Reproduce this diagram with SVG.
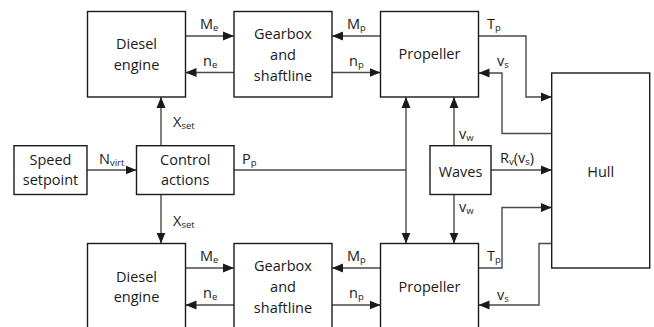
<svg xmlns="http://www.w3.org/2000/svg" width="654" height="327" viewBox="0 0 654 327">
<defs>
<style>
.box{fill:#fff;stroke:#1a1a1a;stroke-width:1.4}
.ln{fill:none;stroke:#4a4a4a;stroke-width:1.4}
.t{font-family:"Open Sans","Liberation Sans",sans-serif;font-size:14.5px;fill:#1a1a1a;text-anchor:middle}
.l{font-family:"Open Sans","Liberation Sans",sans-serif;font-size:14.5px;fill:#1a1a1a}
.s{font-size:9.5px}
</style>
<marker id="ah" markerUnits="userSpaceOnUse" markerWidth="12" markerHeight="10" viewBox="0 0 12 10" refX="11" refY="5" orient="auto">
<path d="M0,0.5 L11,5 L0,9.5 Z" fill="#1a1a1a"/>
</marker>
</defs>
<rect width="654" height="327" fill="#fff"/>
<g id="connectors">
<path class="ln" d="M185.5,36 H234" marker-end="url(#ah)"/>
<path class="ln" d="M234,72.5 H185.5" marker-end="url(#ah)"/>
<path class="ln" d="M380.5,36 H332" marker-end="url(#ah)"/>
<path class="ln" d="M332,72.5 H380.5" marker-end="url(#ah)"/>
<path class="ln" d="M478.5,36 H526 V97 H551.7" marker-end="url(#ah)"/>
<path class="ln" d="M551.7,133.5 H502 V73 H478.5" marker-end="url(#ah)"/>
<path class="ln" d="M161,145.7 V97" marker-end="url(#ah)"/>
<path class="ln" d="M161,194.5 V243.5" marker-end="url(#ah)"/>
<path class="ln" d="M87,170 H136.5" marker-end="url(#ah)"/>
<path class="ln" d="M234,170 H406"/>
<path class="ln" d="M406,170 V97" marker-end="url(#ah)"/>
<path class="ln" d="M406,170 V243.5" marker-end="url(#ah)"/>
<path class="ln" d="M454,145.7 V97" marker-end="url(#ah)"/>
<path class="ln" d="M454,194.5 V243.5" marker-end="url(#ah)"/>
<path class="ln" d="M491,170 H551.7" marker-end="url(#ah)"/>
<path class="ln" d="M185.5,268 H234" marker-end="url(#ah)"/>
<path class="ln" d="M234,305 H185.5" marker-end="url(#ah)"/>
<path class="ln" d="M380.5,268 H332" marker-end="url(#ah)"/>
<path class="ln" d="M332,305 H380.5" marker-end="url(#ah)"/>
<path class="ln" d="M478.5,268 H502 V207.5 H551.7" marker-end="url(#ah)"/>
<path class="ln" d="M551.7,243.5 H539 V305 H478.5" marker-end="url(#ah)"/>
</g>
<g id="labels">
<text class="l" x="200" y="29">M<tspan class="s" dy="2">e</tspan></text>
<text class="l" x="203" y="66">n<tspan class="s" dy="2">e</tspan></text>
<text class="l" x="347" y="29">M<tspan class="s" dy="2">p</tspan></text>
<text class="l" x="349" y="66">n<tspan class="s" dy="2">p</tspan></text>
<text class="l" x="487" y="29">T<tspan class="s" dy="2">p</tspan></text>
<text class="l" x="497" y="66">v<tspan class="s" dy="2">s</tspan></text>
<text class="l" x="173" y="127">X<tspan class="s" dy="2">set</tspan></text>
<text class="l" x="99" y="164">N<tspan class="s" dy="2">virt</tspan></text>
<text class="l" x="242" y="164">P<tspan class="s" dy="2">p</tspan></text>
<text class="l" x="459" y="139">v<tspan class="s" dy="2">w</tspan></text>
<text class="l" x="500" y="163">R<tspan class="s" dy="2">v</tspan><tspan dy="-2">(v</tspan><tspan class="s" dy="2">s</tspan><tspan dy="-2">)</tspan></text>
<text class="l" x="173" y="226">X<tspan class="s" dy="2">set</tspan></text>
<text class="l" x="459" y="212">v<tspan class="s" dy="2">w</tspan></text>
<text class="l" x="200" y="261">M<tspan class="s" dy="2">e</tspan></text>
<text class="l" x="203" y="298">n<tspan class="s" dy="2">e</tspan></text>
<text class="l" x="347" y="261">M<tspan class="s" dy="2">p</tspan></text>
<text class="l" x="349" y="298">n<tspan class="s" dy="2">p</tspan></text>
<text class="l" x="487" y="261">T<tspan class="s" dy="2">p</tspan></text>
<text class="l" x="497" y="300">v<tspan class="s" dy="2">s</tspan></text>
</g>
<g id="speed"><rect class="box" x="14" y="145.7" width="73" height="48.8"/><text class="t" x="50.5" y="165">Speed</text><text class="t" x="50.5" y="185">setpoint</text></g>
<g id="control"><rect class="box" x="136.5" y="145.7" width="97.5" height="48.8"/><text class="t" x="185.2" y="165">Control</text><text class="t" x="185.2" y="185">actions</text></g>
<g id="diesel-top"><rect class="box" x="87.5" y="11.5" width="98" height="85.5"/><text class="t" x="136.5" y="49.3">Diesel</text><text class="t" x="136.5" y="70">engine</text></g>
<g id="gearbox-top"><rect class="box" x="234" y="11.5" width="98" height="85.5"/><text class="t" x="283" y="39.3">Gearbox</text><text class="t" x="283" y="60">and</text><text class="t" x="283" y="80.5">shaftline</text></g>
<g id="propeller-top"><rect class="box" x="380.5" y="11.5" width="98" height="85.5"/><text class="t" x="429.5" y="59.3">Propeller</text></g>
<g id="waves"><rect class="box" x="430" y="145.7" width="61" height="48.8"/><text class="t" x="460.5" y="176.5">Waves</text></g>
<g id="hull"><rect class="box" x="551.7" y="73" width="98" height="195"/><text class="t" x="600.7" y="176.5">Hull</text></g>
<g id="diesel-bottom"><rect class="box" x="87.5" y="243.5" width="98" height="100"/><text class="t" x="136.5" y="281.5">Diesel</text><text class="t" x="136.5" y="302">engine</text></g>
<g id="gearbox-bottom"><rect class="box" x="234" y="243.5" width="98" height="100"/><text class="t" x="283" y="271.3">Gearbox</text><text class="t" x="283" y="292">and</text><text class="t" x="283" y="312.5">shaftline</text></g>
<g id="propeller-bottom"><rect class="box" x="380.5" y="243.5" width="98" height="100"/><text class="t" x="429.5" y="291.5">Propeller</text></g>
</svg>
